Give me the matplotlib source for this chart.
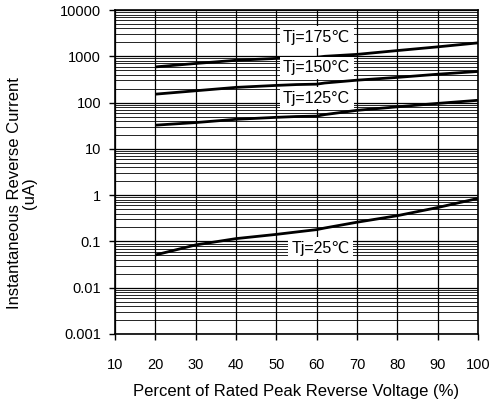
import numpy as np
import matplotlib
matplotlib.use("Agg")
from matplotlib import pyplot as plt
from matplotlib.ticker import LogLocator, FixedLocator, NullFormatter

plt.rcParams['font.family'] = ['Liberation Sans', 'DejaVu Sans']

# percent of rated peak reverse voltage
voltage = [20, 30, 40, 50, 55, 60, 62, 70, 80, 90, 100]

# instantaneous reverse current (uA)
i_175 = [590, 700, 820, 900, 920, 950, 1000, 1100, 1330, 1600, 1950]
i_150 = [152, 180, 213, 235, 245, 250, 265, 305, 350, 410, 470]
i_125 = [32.5, 37, 43.5, 48, 50, 51, 55, 68, 81, 96, 112]
i_25 = [0.051, 0.084, 0.115, 0.142, 0.16, 0.18, 0.195, 0.26, 0.36, 0.54, 0.85]

labels = ["Tj=175\u2103", "Tj=150\u00b0C", "Tj=125\u00b0C", "Tj=25\u2103"]
# label anchor points (x %, y uA)
label_x = [60, 60, 60, 61]
label_y = [2600, 560, 125, 0.072]

x_ticks = [10, 20, 30, 40, 50, 60, 70, 80, 90, 100]
y_ticks = [0.001, 0.01, 0.1, 1, 10, 100, 1000, 10000]
y_ticklabels = ["0.001", "0.01", "0.1", "1", "10", "100", "1000", "10000"]

fig = plt.figure(figsize=(4.94, 4.04), dpi=100)
ax = fig.add_axes([0.2328, 0.1733, 0.7348, 0.8019])

ax.set_yscale('log')
ax.set_xlim(10, 100)
ax.set_ylim(0.001, 10000)

ax.set_xticks(x_ticks)
ax.set_xticklabels([str(v) for v in x_ticks])
ax.yaxis.set_major_locator(FixedLocator(y_ticks))
ax.set_yticklabels(y_ticklabels)
ax.yaxis.set_minor_locator(LogLocator(base=10, subs=np.arange(2, 10), numticks=20))
ax.yaxis.set_minor_formatter(NullFormatter())
ax.tick_params(axis='y', which='minor', length=0)
ax.tick_params(axis='both', which='major', direction='out', length=4, width=1,
               labelsize=10.5, pad=6)
ax.tick_params(axis='x', pad=13)

ax.grid(True, which='major', axis='both', color='black', linewidth=0.9)
ax.grid(True, which='minor', axis='y', color='black', linewidth=0.6)
for s in ax.spines.values():
    s.set_linewidth(1.2)

for series in [i_175, i_150, i_125, i_25]:
    ax.plot(voltage, series, color='black', linewidth=2.0, solid_capstyle='butt', zorder=3)

for lab, lx, ly in zip(labels, label_x, label_y):
    ax.text(lx, ly, lab, fontsize=11.5, ha='center', va='center', zorder=4,
            bbox=dict(boxstyle='square,pad=0.22', facecolor='white', edgecolor='none'))

ax.set_xlabel("Percent of Rated Peak Reverse Voltage (%)", fontsize=12, labelpad=9)
ax.set_ylabel("Instantaneous Reverse Current\n(uA)", fontsize=12, linespacing=1.0)
ax.yaxis.set_label_coords(-0.215, 0.435)

fig.savefig("out.png", dpi=100)
